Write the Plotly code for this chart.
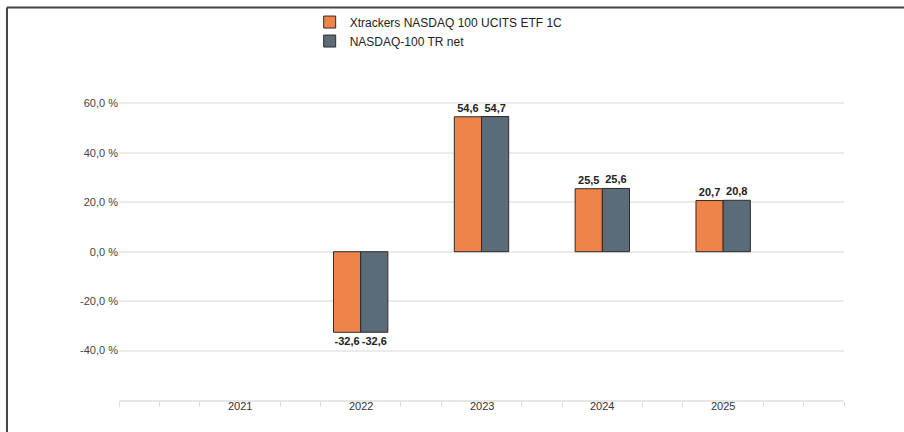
import plotly.graph_objects as go

years = [2021, 2022, 2023, 2024, 2025]
etf_values = [None, -32.6, 54.6, 25.5, 20.7]
index_values = [None, -32.6, 54.7, 25.6, 20.8]
series_names = ["Xtrackers NASDAQ 100 UCITS ETF 1C", "NASDAQ-100 TR net"]
y_tick_vals = [-60, -40, -20, 0, 20, 40, 60, 80]
y_tick_text = ["", "-40,0 %", "-20,0 %", "0,0 %", "20,0 %", "40,0 %", "60,0 %", ""]

ORANGE = "#EE844A"
SLATE = "#5B6B78"
FONT = "Liberation Sans, Arial, sans-serif"

fig = go.Figure()
for name, vals, col in [(series_names[0], etf_values, ORANGE), (series_names[1], index_values, SLATE)]:
    fig.add_trace(go.Bar(
        x=years, y=vals, name=name,
        marker=dict(color=col, line=dict(color="#2b2b2b", width=1)),
        texttemplate="%{y:.1f}", textposition="outside",
        textfont=dict(family=FONT, size=11, color="#222222", weight="bold"),
        cliponaxis=False,
    ))

# year labels as annotations (placed close under the axis line)
annotations = [
    dict(x=y, y=0, xref="x", yref="paper", text=str(y), showarrow=False,
         yanchor="middle", yshift=-6, font=dict(family=FONT, size=11, color="#333333"))
    for y in years
]

fig.update_layout(
    width=904, height=432,
    margin=dict(l=119, r=60, t=53, b=32, autoexpand=False),
    paper_bgcolor="white", plot_bgcolor="white",
    separators=",.",
    barmode="group", bargap=0.55, bargroupgap=0,
    font=dict(family=FONT, size=11, color="#333333"),
    showlegend=True,
    legend=dict(
        x=0.263, xanchor="left", y=1.131, yanchor="top",
        font=dict(family=FONT, size=12, color="#222222"),
        bgcolor="rgba(0,0,0,0)", tracegroupgap=0,
    ),
    xaxis=dict(
        range=[2020, 2026], tickvals=years, ticktext=[str(y) for y in years],
        ticks="", showticklabels=False, showgrid=False, zeroline=False,
        showline=True, linecolor="#e6e6e6", linewidth=2,
        minor=dict(ticks="outside", dtick=1/3, tick0=2020, ticklen=5,
                   tickcolor="#dddddd", tickwidth=1, showgrid=False),
    ),
    yaxis=dict(
        range=[-60, 80.4], tickvals=y_tick_vals, ticktext=y_tick_text,
        showgrid=True, gridcolor="#ebebeb", gridwidth=1.5,
        zeroline=False, ticks="", showline=False,
        tickfont=dict(family=FONT, size=11, color="#444444"),
    ),
    annotations=annotations,
    shapes=[
        dict(type="line", xref="paper", yref="paper", x0=-0.1545, x1=-0.1545, y0=1.131, y1=-0.2,
             line=dict(color="#444444", width=2)),
        dict(type="line", xref="paper", yref="paper", x0=-0.1545, x1=1.2, y0=1.131, y1=1.131,
             line=dict(color="#444444", width=2)),
    ],
)

fig.write_html("out.html", config={"displayModeBar": False},
               post_script="document.body.style.margin='0';document.body.style.overflow='hidden';")
